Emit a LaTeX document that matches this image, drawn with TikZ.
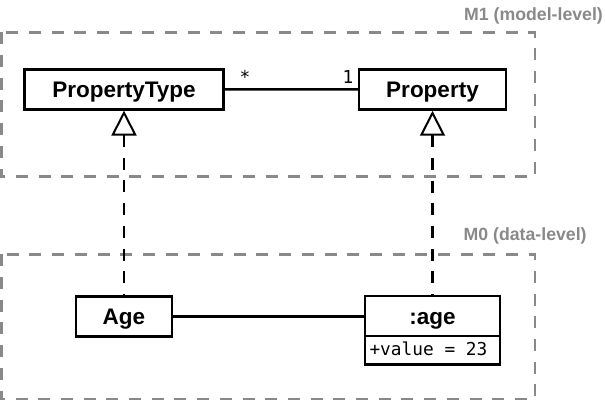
\documentclass[tikz,border=0pt]{standalone}
\usepackage{fontspec}
\setmainfont{Liberation Sans}
\newfontfamily\monof{DejaVu Sans Mono}
\newcommand\monosp{\hspace{0.602em}}
\usetikzlibrary{arrows.meta}
\definecolor{framegray}{HTML}{898989}
\begin{document}
\begin{tikzpicture}[x=1pt,y=-1pt,
 cls/.style={draw, line width=2.5pt, fill=white, inner sep=0pt,
   font=\fontsize{22.5}{25}\selectfont\bfseries, text height=16.5pt, text depth=0pt,
   minimum height=40pt},
 level/.style={draw=framegray, line width=2.7pt, dash pattern=on 12pt off 10.7pt},
 levellabel/.style={text=framegray, font=\fontsize{17.7}{20}\selectfont\bfseries,
   inner sep=0pt, anchor=base west},
 mult/.style={font=\monof\fontsize{17.8}{20}\selectfont, inner sep=0pt, anchor=base},
 assoc/.style={line width=2.5pt},
 realize/.style={line width=2.7pt, dash pattern=on 12pt off 10.7pt,
   {Triangle[open, length=25pt, width=25pt, line width=2pt]}-}
]
\useasboundingbox (0,0) rectangle (605,401);

% level frames
\draw[level] (1.35,32.3) rectangle (535,176.7);
\draw[level] (1.35,254.3) rectangle (535,399);
\node[levellabel] (l1) at (464,20.7) {M1 (model-level)};
\node[levellabel] (l0) at (463.5,240.7) {M0 (data-level)};

% classes
\node[cls, minimum width=199pt] (pt) at (124,89.3) {PropertyType};
\node[cls, minimum width=147pt] (prop) at (432.5,89.5) {Property};
\node[cls, minimum width=96pt] (age) at (124,316.4) {Age};
\node[cls, minimum width=135pt] (obj) at (432.5,316) {:age};
\node[cls, outer sep=0pt, minimum height=28.3pt, anchor=north,
  font=\monof\fontsize{17.8}{20}\selectfont, text width=126pt, align=left,
  inner xsep=4.5pt, text height=12pt, text depth=2pt] (attr)
  at ([yshift=1.25pt]obj.south) {+value\monosp=\monosp23};

% connectors
\draw[assoc] (pt.east) -- (prop.west);
\draw[assoc] (age.east) -- (age.east -| obj.west);
\draw[realize] (pt.south) -- (pt.south |- age.north);
\draw[realize] (prop.south) -- (prop.south |- obj.north);

% multiplicities
\node[mult] (m1) at (245,84) {*};
\node[mult, anchor=base east] (m2) at (353.5,84) {1};
\end{tikzpicture}
\end{document}
